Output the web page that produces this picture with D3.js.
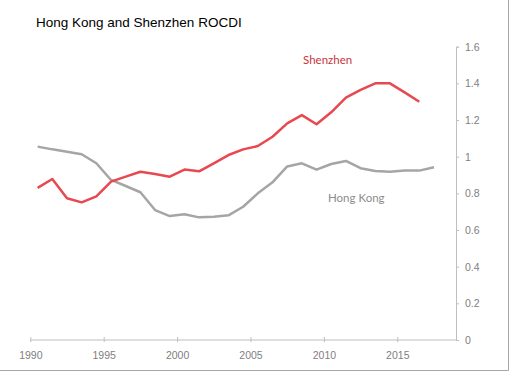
<!DOCTYPE html>
<html>
<head>
<meta charset="utf-8">
<script src="https://cdn.jsdelivr.net/npm/d3@7"></script>
<style>
  html, body { margin: 0; padding: 0; background: #fff; }
  svg { display: block; }
</style>
</head>
<body>
<svg id="chart" width="512" height="372"></svg>
<script>
const ancho = 512;
const alto = 372;

// años (categorías del eje)
const anios = d3.range(1990, 2019);
const etiquetasX = [1990, 1995, 2000, 2005, 2010, 2015];
const etiquetasY = [0, 0.2, 0.4, 0.6, 0.8, 1, 1.2, 1.4, 1.6];

const shenzhen = [0.83, 0.878, 0.773, 0.751, 0.784, 0.864, 0.891, 0.918, 0.906, 0.891,
  0.93, 0.92, 0.964, 1.009, 1.04, 1.058, 1.109, 1.182, 1.227, 1.177,
  1.242, 1.322, 1.364, 1.4, 1.4, 1.351, 1.3];

const hongKong = [1.055, 1.04, 1.027, 1.013, 0.964, 0.873, 0.84, 0.806, 0.709, 0.676,
  0.686, 0.669, 0.673, 0.68, 0.727, 0.8, 0.86, 0.947, 0.964, 0.929,
  0.96, 0.977, 0.937, 0.922, 0.918, 0.924, 0.924, 0.942];

const svg = d3.select("#chart");

const x = d3.scaleLinear().domain([1990, 2019]).range([30.3, 456]);
const y = d3.scaleLinear().domain([0, 1.6]).range([340, 46.7]);

// borde del cuadro
svg.append("line").attr("x1", 508.5).attr("x2", 508.5).attr("y1", 0).attr("y2", 370.5)
  .attr("stroke", "#a6a6a6").attr("stroke-width", 1);
svg.append("line").attr("x1", 0).attr("x2", 508.5).attr("y1", 370.5).attr("y2", 370.5)
  .attr("stroke", "#a6a6a6").attr("stroke-width", 1);

svg.append("text")
  .attr("x", 36)
  .attr("y", 26.5)
  .attr("font-family", "Liberation Sans, Arial, sans-serif")
  .attr("font-size", 13.5)
  .attr("fill", "#000")
  .text("Hong Kong and Shenzhen ROCDI");

// eje x
const ejeX = svg.append("g")
  .attr("transform", "translate(0,340)")
  .call(d3.axisBottom(x).tickValues(etiquetasX).tickSize(0).tickPadding(12).tickFormat(d3.format("d")));
ejeX.select(".domain").remove();
ejeX.append("line").attr("x1", 30.3).attr("x2", 456).attr("stroke", "#bfbfbf");
ejeX.selectAll(".tick").append("line").attr("y1", -3).attr("y2", 2).attr("stroke", "#bfbfbf");
ejeX.selectAll("text")
  .attr("fill", "#808080")
  .attr("font-family", "Liberation Sans, Arial, sans-serif")
  .attr("font-size", 10.5);

// eje y (derecha)
const ejeY = svg.append("g")
  .attr("transform", "translate(456,0)")
  .call(d3.axisRight(y).tickValues(etiquetasY).tickSize(3).tickPadding(6).tickFormat(d => d3.format("")(+d.toFixed(1))));
ejeY.select(".domain").attr("stroke", "#bfbfbf");
ejeY.selectAll(".tick line").attr("stroke", "#bfbfbf");
ejeY.selectAll("text")
  .attr("fill", "#808080")
  .attr("font-family", "Liberation Sans, Arial, sans-serif")
  .attr("font-size", 10.5);

const linea = d3.line()
  .x((d, i) => x(anios[i] + 0.5))
  .y(d => y(d));

svg.append("path")
  .datum(hongKong)
  .attr("fill", "none")
  .attr("stroke", "#a5a5a5")
  .attr("stroke-width", 2.5)
  .attr("stroke-linejoin", "round")
  .attr("d", linea);

svg.append("path")
  .datum(shenzhen)
  .attr("fill", "none")
  .attr("stroke", "#e8484f")
  .attr("stroke-width", 2.5)
  .attr("stroke-linejoin", "round")
  .attr("d", linea);

svg.append("text")
  .attr("x", 303)
  .attr("y", 64)
  .attr("font-family", "Lato, Open Sans, sans-serif")
  .attr("font-size", 11.5)
  .attr("fill", "#c8363d")
  .text("Shenzhen");

svg.append("text")
  .attr("x", 328)
  .attr("y", 201.5)
  .attr("font-family", "Lato, Open Sans, sans-serif")
  .attr("font-size", 11.5)
  .attr("fill", "#8c8c8c")
  .text("Hong Kong");
</script>
</body>
</html>
